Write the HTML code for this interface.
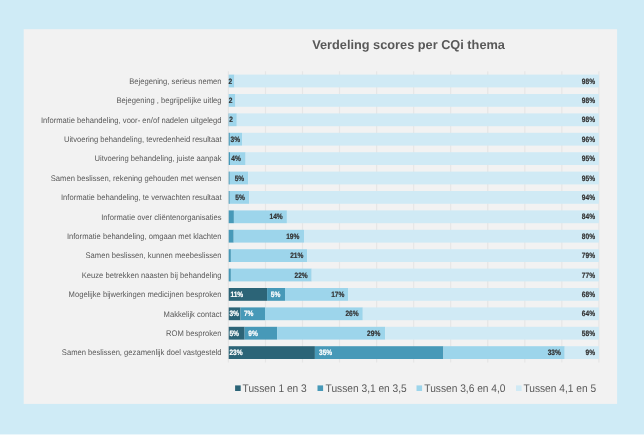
<!DOCTYPE html>
<html><head><meta charset="utf-8"><style>
*{margin:0;padding:0;box-sizing:border-box}
html,body{width:644px;height:435px;overflow:hidden;background:#cfebf6;font-family:"Liberation Sans",sans-serif}
#wrap{position:absolute;left:0;top:0;width:644px;height:435px;will-change:transform}
svg{position:absolute;left:0;top:0}
svg text{font-family:"Liberation Sans",sans-serif}
.lab{font-size:7.63px;fill:#595959}
.v{font-size:6.6px;font-weight:bold;stroke-width:0.18px}
.lg{font-size:10.2px;fill:#595959}
.title{font-size:12.75px;font-weight:bold;fill:#595959}
</style></head><body><div id="wrap">
<svg width="644" height="435" viewBox="0 0 644 435" shape-rendering="geometricPrecision" text-rendering="geometricPrecision">
<rect x="0" y="0" width="644" height="435" fill="#cfebf6"/>
<rect x="23.7" y="29.2" width="593.4" height="374.7" fill="#f2f2f2"/>
<text class="title" x="312.2" y="48.7">Verdeling scores per CQi thema</text>

<rect x="227.80" y="71.3" width="1.2" height="291.2" fill="#e6e6e6"/>
<rect x="264.85" y="71.3" width="1.2" height="291.2" fill="#e6e6e6"/>
<rect x="301.90" y="71.3" width="1.2" height="291.2" fill="#e6e6e6"/>
<rect x="338.95" y="71.3" width="1.2" height="291.2" fill="#e6e6e6"/>
<rect x="376.00" y="71.3" width="1.2" height="291.2" fill="#e6e6e6"/>
<rect x="413.05" y="71.3" width="1.2" height="291.2" fill="#e6e6e6"/>
<rect x="450.10" y="71.3" width="1.2" height="291.2" fill="#e6e6e6"/>
<rect x="487.15" y="71.3" width="1.2" height="291.2" fill="#e6e6e6"/>
<rect x="524.20" y="71.3" width="1.2" height="291.2" fill="#e6e6e6"/>
<rect x="561.25" y="71.3" width="1.2" height="291.2" fill="#e6e6e6"/>
<rect x="598.30" y="71.3" width="1.2" height="291.2" fill="#e6e6e6"/>
<text class="lab" transform="translate(221.6 83.77) scale(1 1.07)" text-anchor="end">Bejegening, serieus nemen</text>
<rect x="228.70" y="74.60" width="5.70" height="12.8" fill="#9dd5eb"/>
<rect x="234.40" y="74.60" width="364.50" height="12.8" fill="#d0eaf5"/>
<text class="v" transform="translate(228.50 83.69) scale(1 1.18)" fill="#333333" stroke="#333333">2</text>
<text class="v" transform="translate(595.00 83.69) scale(1 1.18)" text-anchor="end" fill="#333333" stroke="#333333">98%</text>
<text class="lab" transform="translate(221.6 103.17) scale(1 1.07)" text-anchor="end">Bejegening , begrijpelijke uitleg</text>
<rect x="228.70" y="94.00" width="6.70" height="12.8" fill="#9dd5eb"/>
<rect x="235.40" y="94.00" width="363.50" height="12.8" fill="#d0eaf5"/>
<text class="v" transform="translate(228.80 103.09) scale(1 1.18)" fill="#333333" stroke="#333333">2</text>
<text class="v" transform="translate(595.00 103.09) scale(1 1.18)" text-anchor="end" fill="#333333" stroke="#333333">98%</text>
<text class="lab" transform="translate(221.6 122.57) scale(1 1.07)" text-anchor="end">Informatie behandeling, voor- en/of nadelen uitgelegd</text>
<rect x="228.70" y="113.40" width="0.60" height="12.8" fill="#4799b8"/>
<rect x="229.30" y="113.40" width="7.50" height="12.8" fill="#9dd5eb"/>
<rect x="236.80" y="113.40" width="362.10" height="12.8" fill="#d0eaf5"/>
<text class="v" transform="translate(229.30 122.49) scale(1 1.18)" fill="#333333" stroke="#333333">2</text>
<text class="v" transform="translate(595.00 122.49) scale(1 1.18)" text-anchor="end" fill="#333333" stroke="#333333">98%</text>
<text class="lab" transform="translate(221.6 141.97) scale(1 1.07)" text-anchor="end">Uitvoering behandeling, tevredenheid resultaat</text>
<rect x="228.70" y="132.80" width="1.20" height="12.8" fill="#4799b8"/>
<rect x="229.90" y="132.80" width="12.10" height="12.8" fill="#9dd5eb"/>
<rect x="242.00" y="132.80" width="356.90" height="12.8" fill="#d0eaf5"/>
<text class="v" transform="translate(230.60 141.89) scale(1 1.18)" fill="#333333" stroke="#333333">3%</text>
<text class="v" transform="translate(595.00 141.89) scale(1 1.18)" text-anchor="end" fill="#333333" stroke="#333333">96%</text>
<text class="lab" transform="translate(221.6 161.37) scale(1 1.07)" text-anchor="end">Uitvoering behandeling, juiste aanpak</text>
<rect x="228.70" y="152.20" width="1.30" height="12.8" fill="#4799b8"/>
<rect x="230.00" y="152.20" width="15.60" height="12.8" fill="#9dd5eb"/>
<rect x="245.60" y="152.20" width="353.30" height="12.8" fill="#d0eaf5"/>
<text class="v" transform="translate(240.90 161.29) scale(1 1.18)" text-anchor="end" fill="#333333" stroke="#333333">4%</text>
<text class="v" transform="translate(595.00 161.29) scale(1 1.18)" text-anchor="end" fill="#333333" stroke="#333333">95%</text>
<text class="lab" transform="translate(221.6 180.77) scale(1 1.07)" text-anchor="end">Samen beslissen, rekening gehouden met wensen</text>
<rect x="228.70" y="171.60" width="1.10" height="12.8" fill="#4799b8"/>
<rect x="229.80" y="171.60" width="18.30" height="12.8" fill="#9dd5eb"/>
<rect x="248.10" y="171.60" width="350.80" height="12.8" fill="#d0eaf5"/>
<text class="v" transform="translate(244.20 180.69) scale(1 1.18)" text-anchor="end" fill="#333333" stroke="#333333">5%</text>
<text class="v" transform="translate(595.00 180.69) scale(1 1.18)" text-anchor="end" fill="#333333" stroke="#333333">95%</text>
<text class="lab" transform="translate(221.6 200.17) scale(1 1.07)" text-anchor="end">Informatie behandeling, te verwachten resultaat</text>
<rect x="228.70" y="191.00" width="1.10" height="12.8" fill="#4799b8"/>
<rect x="229.80" y="191.00" width="19.40" height="12.8" fill="#9dd5eb"/>
<rect x="249.20" y="191.00" width="349.70" height="12.8" fill="#d0eaf5"/>
<text class="v" transform="translate(244.80 200.09) scale(1 1.18)" text-anchor="end" fill="#333333" stroke="#333333">5%</text>
<text class="v" transform="translate(595.00 200.09) scale(1 1.18)" text-anchor="end" fill="#333333" stroke="#333333">94%</text>
<text class="lab" transform="translate(221.6 219.57) scale(1 1.07)" text-anchor="end">Informatie over cliëntenorganisaties</text>
<rect x="228.70" y="210.40" width="5.20" height="12.8" fill="#4799b8"/>
<rect x="233.90" y="210.40" width="53.00" height="12.8" fill="#9dd5eb"/>
<rect x="286.90" y="210.40" width="312.00" height="12.8" fill="#d0eaf5"/>
<text class="v" transform="translate(282.70 219.49) scale(1 1.18)" text-anchor="end" fill="#333333" stroke="#333333">14%</text>
<text class="v" transform="translate(595.00 219.49) scale(1 1.18)" text-anchor="end" fill="#333333" stroke="#333333">84%</text>
<text class="lab" transform="translate(221.6 238.97) scale(1 1.07)" text-anchor="end">Informatie behandeling, omgaan met klachten</text>
<rect x="228.70" y="229.80" width="5.00" height="12.8" fill="#4799b8"/>
<rect x="233.70" y="229.80" width="70.30" height="12.8" fill="#9dd5eb"/>
<rect x="304.00" y="229.80" width="294.90" height="12.8" fill="#d0eaf5"/>
<text class="v" transform="translate(299.40 238.89) scale(1 1.18)" text-anchor="end" fill="#333333" stroke="#333333">19%</text>
<text class="v" transform="translate(595.00 238.89) scale(1 1.18)" text-anchor="end" fill="#333333" stroke="#333333">80%</text>
<text class="lab" transform="translate(221.6 258.37) scale(1 1.07)" text-anchor="end">Samen beslissen, kunnen meebeslissen</text>
<rect x="228.70" y="249.20" width="2.20" height="12.8" fill="#4799b8"/>
<rect x="230.90" y="249.20" width="76.20" height="12.8" fill="#9dd5eb"/>
<rect x="307.10" y="249.20" width="291.80" height="12.8" fill="#d0eaf5"/>
<text class="v" transform="translate(303.40 258.29) scale(1 1.18)" text-anchor="end" fill="#333333" stroke="#333333">21%</text>
<text class="v" transform="translate(595.00 258.29) scale(1 1.18)" text-anchor="end" fill="#333333" stroke="#333333">79%</text>
<text class="lab" transform="translate(221.6 277.77) scale(1 1.07)" text-anchor="end">Keuze betrekken naasten bij behandeling</text>
<rect x="228.70" y="268.60" width="2.20" height="12.8" fill="#4799b8"/>
<rect x="230.90" y="268.60" width="80.80" height="12.8" fill="#9dd5eb"/>
<rect x="311.70" y="268.60" width="287.20" height="12.8" fill="#d0eaf5"/>
<text class="v" transform="translate(307.70 277.69) scale(1 1.18)" text-anchor="end" fill="#333333" stroke="#333333">22%</text>
<text class="v" transform="translate(595.00 277.69) scale(1 1.18)" text-anchor="end" fill="#333333" stroke="#333333">77%</text>
<text class="lab" transform="translate(221.6 297.17) scale(1 1.07)" text-anchor="end">Mogelijke bijwerkingen medicijnen besproken</text>
<rect x="228.70" y="288.00" width="38.40" height="12.8" fill="#2c6477"/>
<rect x="267.10" y="288.00" width="17.90" height="12.8" fill="#4799b8"/>
<rect x="285.00" y="288.00" width="63.00" height="12.8" fill="#9dd5eb"/>
<rect x="348.00" y="288.00" width="250.90" height="12.8" fill="#d0eaf5"/>
<text class="v" transform="translate(230.40 297.09) scale(1 1.18)" fill="#ffffff" stroke="#ffffff">11%</text>
<text class="v" transform="translate(270.80 297.09) scale(1 1.18)" fill="#ffffff" stroke="#ffffff">5%</text>
<text class="v" transform="translate(344.40 297.09) scale(1 1.18)" text-anchor="end" fill="#333333" stroke="#333333">17%</text>
<text class="v" transform="translate(595.00 297.09) scale(1 1.18)" text-anchor="end" fill="#333333" stroke="#333333">68%</text>
<text class="lab" transform="translate(221.6 316.57) scale(1 1.07)" text-anchor="end">Makkelijk contact</text>
<rect x="228.70" y="307.40" width="11.70" height="12.8" fill="#2c6477"/>
<rect x="240.40" y="307.40" width="24.60" height="12.8" fill="#4799b8"/>
<rect x="265.00" y="307.40" width="97.80" height="12.8" fill="#9dd5eb"/>
<rect x="362.80" y="307.40" width="236.10" height="12.8" fill="#d0eaf5"/>
<text class="v" transform="translate(229.40 316.49) scale(1 1.18)" fill="#ffffff" stroke="#ffffff">3%</text>
<text class="v" transform="translate(243.90 316.49) scale(1 1.18)" fill="#ffffff" stroke="#ffffff">7%</text>
<text class="v" transform="translate(358.60 316.49) scale(1 1.18)" text-anchor="end" fill="#333333" stroke="#333333">26%</text>
<text class="v" transform="translate(595.00 316.49) scale(1 1.18)" text-anchor="end" fill="#333333" stroke="#333333">64%</text>
<text class="lab" transform="translate(221.6 335.97) scale(1 1.07)" text-anchor="end">ROM besproken</text>
<rect x="228.70" y="326.80" width="15.90" height="12.8" fill="#2c6477"/>
<rect x="244.60" y="326.80" width="32.50" height="12.8" fill="#4799b8"/>
<rect x="277.10" y="326.80" width="108.10" height="12.8" fill="#9dd5eb"/>
<rect x="385.20" y="326.80" width="213.70" height="12.8" fill="#d0eaf5"/>
<text class="v" transform="translate(229.40 335.89) scale(1 1.18)" fill="#ffffff" stroke="#ffffff">5%</text>
<text class="v" transform="translate(248.30 335.89) scale(1 1.18)" fill="#ffffff" stroke="#ffffff">9%</text>
<text class="v" transform="translate(380.30 335.89) scale(1 1.18)" text-anchor="end" fill="#333333" stroke="#333333">29%</text>
<text class="v" transform="translate(595.00 335.89) scale(1 1.18)" text-anchor="end" fill="#333333" stroke="#333333">58%</text>
<text class="lab" transform="translate(221.6 355.37) scale(1 1.07)" text-anchor="end">Samen beslissen, gezamenlijk doel vastgesteld</text>
<rect x="228.70" y="346.20" width="86.20" height="12.8" fill="#2c6477"/>
<rect x="314.90" y="346.20" width="128.50" height="12.8" fill="#4799b8"/>
<rect x="443.40" y="346.20" width="121.30" height="12.8" fill="#9dd5eb"/>
<rect x="564.70" y="346.20" width="34.20" height="12.8" fill="#d0eaf5"/>
<text class="v" transform="translate(229.40 355.29) scale(1 1.18)" fill="#ffffff" stroke="#ffffff">23%</text>
<text class="v" transform="translate(319.00 355.29) scale(1 1.18)" fill="#ffffff" stroke="#ffffff">35%</text>
<text class="v" transform="translate(560.90 355.29) scale(1 1.18)" text-anchor="end" fill="#333333" stroke="#333333">33%</text>
<text class="v" transform="translate(595.00 355.29) scale(1 1.18)" text-anchor="end" fill="#333333" stroke="#333333">9%</text>
<rect x="235.1" y="385.4" width="5.6" height="5.6" fill="#2c6477"/>
<text class="lg" transform="translate(242.60 391.9) scale(1 1.08)">Tussen 1 en 3</text>
<rect x="317.5" y="385.4" width="5.6" height="5.6" fill="#4799b8"/>
<text class="lg" transform="translate(325.60 391.9) scale(1 1.08)">Tussen 3,1 en 3,5</text>
<rect x="416.5" y="385.4" width="5.6" height="5.6" fill="#9dd5eb"/>
<text class="lg" transform="translate(424.30 391.9) scale(1 1.08)">Tussen 3,6 en 4,0</text>
<rect x="516.0" y="385.4" width="5.6" height="5.6" fill="#d0eaf5"/>
<text class="lg" transform="translate(523.40 391.9) scale(1 1.08)">Tussen 4,1 en 5</text>
<rect x="0" y="434" width="644" height="1" fill="#eaf6fb"/>
</svg></div></body></html>
